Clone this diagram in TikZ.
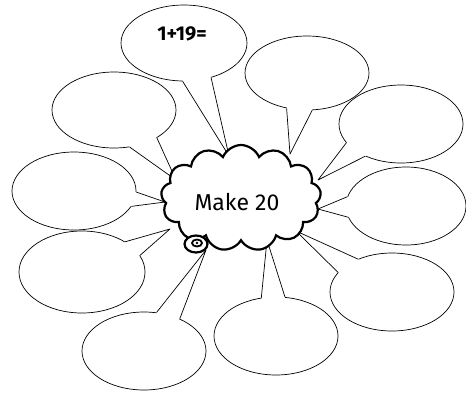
\documentclass[tikz,border=0pt]{standalone}
\usepackage{fontspec}
\setmainfont{Fira Sans}
\usetikzlibrary{shapes.geometric,shapes.symbols}
\tikzset{
  bubble/.style={draw, ellipse, line width=0.7pt, fill=white, inner sep=0pt},
  tailline/.style={draw, line width=0.7pt, line join=round},
  thought/.style={draw, cloud, cloud puffs=13, cloud puff arc=135, line width=2.2pt, fill=white, inner sep=0pt}
}
\newcommand{\mytail}[4]{%
  \fill[white] (#1.#2) -- (#4) -- (#1.#3) -- (#1.center) -- cycle;
  \draw[tailline] (#1.#2) -- (#4) -- (#1.#3);
}
\begin{document}
\begin{tikzpicture}[x=1pt,y=-1pt]
\useasboundingbox (0,0) rectangle (466,392);
% bubbles
\node[bubble, minimum width=126pt, minimum height=76pt] (e1) at (184,43) {};
\node[bubble, minimum width=124pt, minimum height=74pt] (e2) at (307,73) {};
\node[bubble, minimum width=124pt, minimum height=78pt] (e3) at (401,124) {};
\node[bubble, minimum width=120pt, minimum height=78pt] (e4) at (406,206) {};
\node[bubble, minimum width=124pt, minimum height=78pt] (e5) at (392,292) {};
\node[bubble, minimum width=124pt, minimum height=78pt] (e6) at (276,336) {};
\node[bubble, minimum width=124pt, minimum height=78pt] (e7) at (144,351) {};
\node[bubble, minimum width=126pt, minimum height=82pt] (e8) at (82,272) {};
\node[bubble, minimum width=124pt, minimum height=78pt] (e9) at (74,191) {};
\node[bubble, minimum width=124pt, minimum height=76pt] (e10) at (114,110) {};
% tips
\coordinate (t1) at (229,156);
\coordinate (t2) at (290,154);
\coordinate (t3) at (318,180);
\coordinate (t4) at (318,209);
\coordinate (t5) at (296,231);
\coordinate (t6) at (267,240);
\coordinate (t7) at (206,250);
\coordinate (t8) at (170,229);
\coordinate (t9) at (165,202);
\coordinate (t10) at (176,180);
% tails
\mytail{e1}{268}{308}{t1}
\mytail{e2}{240}{278}{t2}
\mytail{e3}{199}{222}{t3}
\mytail{e4}{171}{191}{t4}
\mytail{e5}{136}{160}{t5}
\mytail{e6}{111}{77}{t6}
\mytail{e7}{72}{42}{t7}
\mytail{e8}{35}{16}{t8}
\mytail{e9}{359}{345}{t9}
\mytail{e10}{327}{293}{t10}
% cloud
\node[thought, minimum width=160pt, minimum height=106pt] (c) at (241,198) {};
\node[font=\fontsize{23}{27}\selectfont] (m) at (237,202) {Make 20};
% spiral
\node[draw, ellipse, line width=2.2pt, fill=white, minimum width=23pt, minimum height=17pt, inner sep=0pt] (s1) at (196,244) {};
\node[draw, ellipse, line width=1.8pt, minimum width=10pt, minimum height=7pt, inner sep=0pt] (s2) at (197,243) {};
\fill (s2.center) circle (1.3pt);
% top label
\node[font=\bfseries\fontsize{20}{24}\selectfont] (q) at (182,34) {1+19=};
\end{tikzpicture}
\end{document}
